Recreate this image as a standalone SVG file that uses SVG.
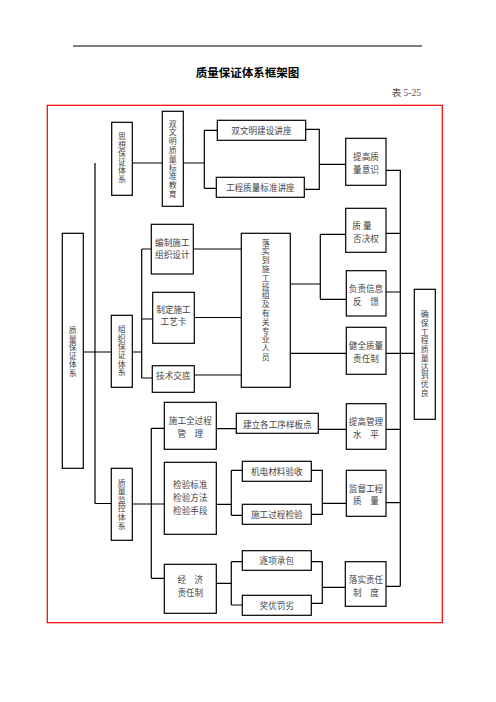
<svg xmlns="http://www.w3.org/2000/svg" width="496" height="702" viewBox="0 0 496 702">
<style>
  .bx{fill:#fff;stroke:#000;stroke-width:1.2}
  .t{font-family:"Liberation Serif","Noto Sans CJK SC",serif;font-size:8.6px;fill:#444;text-anchor:middle}
  .v{font-family:"Liberation Serif","Noto Sans CJK SC",serif;font-size:7.9px;fill:#444;text-anchor:middle}
  .cn{fill:none;stroke:#000;stroke-width:1.2}
</style>
<rect width="496" height="702" fill="#fff"/>
<line x1="73" y1="46" x2="422" y2="46" stroke="#000" stroke-width="1.2"/>
<text x="247.5" y="77" font-family="Liberation Serif,'Noto Sans CJK SC',serif" font-size="11.5" font-weight="bold" text-anchor="middle" fill="#000">质量保证体系框架图</text>
<text x="421" y="96" font-family="Liberation Serif,'Noto Sans CJK SC',serif" font-size="9.5" text-anchor="end" fill="#555">表 5-25</text>
<rect x="47.3" y="105.3" width="395" height="517.4" fill="none" stroke="#e00" stroke-width="1.2"/>

<g id="connectors" class="cn">
  <path class="cn" d="M132,163H162 M95,163V503.5 M83,352H111 M132,352H141.7 M141.7,249V378 M141.7,249H151 M141.7,319H152.5 M141.7,378H152 M95,503.5H111"/>
  <path class="cn" d="M183,163H204.3 M204.3,130.3V188.3 M204.3,130.3H217 M204.3,188.3H216 M305.5,129.3H319.3V189.3H304.3 M319.3,164.3H345.5"/>
  <path class="cn" d="M193,249H241 M194.5,317.5H241 M194,375H241 M290,284H320.3 M320.3,234.3V299.3 M320.3,234.3H345.5 M320.3,299.3H346 M290,353.3H346"/>
  <path class="cn" d="M386,170.3H400.3V586.3 M386,233.3H400.3 M386,292H400.3 M386,353.3H414 M386,429.3H400.3 M386,502.7H400.3 M386,586.3H400.3"/>
  <path class="cn" d="M132,504H151.3 M151.3,428.3V578.3 M151.3,428.3H164 M151.3,504H164 M151.3,578.3H164"/>
  <path class="cn" d="M216,428.7H236 M318.3,429.3H346 M216,504.3H231.3 M231.3,470.3V515.3 M231.3,470.3H242 M231.3,515.3H242 M311,470.3H322.3V514.3H311 M322.3,503.3H346"/>
  <path class="cn" d="M216,583.3H231.3 M231.3,561.7V605 M231.3,561.7H242 M231.3,605H242 M311,561.7H322.3V603.3H311 M322.3,587.3H345"/>
</g>

<g id="n-sixiang">
  <rect class="bx" x="111.7" y="122.3" width="20.6" height="73"/>
  <text class="v"><tspan x="122" y="139.4">思</tspan><tspan x="122" y="147.9">想</tspan><tspan x="122" y="156.4">保</tspan><tspan x="122" y="164.9">证</tspan><tspan x="122" y="173.4">体</tspan><tspan x="122" y="181.9">系</tspan></text>
</g>
<g id="n-shuangwenming">
  <rect class="bx" x="162.3" y="111.3" width="21" height="95"/>
  <text class="v"><tspan x="172.7" y="126.6">双</tspan><tspan x="172.7" y="135.4">文</tspan><tspan x="172.7" y="144.2">明</tspan><tspan x="172.7" y="153">质</tspan><tspan x="172.7" y="161.8">量</tspan><tspan x="172.7" y="170.6">标</tspan><tspan x="172.7" y="179.4">准</tspan><tspan x="172.7" y="188.2">教</tspan><tspan x="172.7" y="197">育</tspan></text>
</g>
<g id="n-jiangzuo1">
  <rect class="bx" x="217.3" y="120.3" width="88.4" height="20"/>
  <text class="t" x="261.4" y="133.5">双文明建设讲座</text>
</g>
<g id="n-jiangzuo2">
  <rect class="bx" x="216.3" y="177.3" width="88" height="20"/>
  <text class="t" x="260.3" y="190.5">工程质量标准讲座</text>
</g>
<g id="n-tigaozhiliang">
  <rect class="bx" x="345.7" y="138.3" width="40.3" height="47"/>
  <text class="t" x="366" y="159.9">提高质</text>
  <text class="t" x="366" y="173.2">量意识</text>
</g>
<g id="n-zhiliangbaozheng">
  <rect class="bx" x="62.3" y="233.3" width="21" height="235"/>
  <text class="v"><tspan x="72.8" y="333.1">质</tspan><tspan x="72.8" y="341.6">量</tspan><tspan x="72.8" y="350.1">保</tspan><tspan x="72.8" y="358.6">证</tspan><tspan x="72.8" y="367.1">体</tspan><tspan x="72.8" y="375.6">系</tspan></text>
</g>
<g id="n-zuzhi">
  <rect class="bx" x="111.3" y="315.3" width="21" height="72"/>
  <text class="v"><tspan x="121.8" y="332.2">组</tspan><tspan x="121.8" y="340.8">织</tspan><tspan x="121.8" y="349.4">保</tspan><tspan x="121.8" y="358">证</tspan><tspan x="121.8" y="366.6">体</tspan><tspan x="121.8" y="375.2">系</tspan></text>
</g>
<g id="n-bianzhi">
  <rect class="bx" x="151.3" y="224.3" width="42" height="49.7"/>
  <text class="t" x="172.3" y="245.5">编制施工</text>
  <text class="t" x="172.3" y="257.5">组织设计</text>
</g>
<g id="n-zhiding">
  <rect class="bx" x="152.7" y="292.3" width="41.6" height="51"/>
  <text class="t" x="173.5" y="312.5">制定施工</text>
  <text class="t" x="173.5" y="324.9">工艺卡</text>
</g>
<g id="n-jishu">
  <rect class="bx" x="152.3" y="365.7" width="42" height="26.6"/>
  <text class="t" x="173.3" y="379.2">技术交底</text>
</g>
<g id="n-luoshi">
  <rect class="bx" x="241.3" y="233.3" width="49" height="154"/>
  <text class="v"><tspan x="265.8" y="245.6">落</tspan><tspan x="265.8" y="254.4">实</tspan><tspan x="265.8" y="263.2">到</tspan><tspan x="265.8" y="272">施</tspan><tspan x="265.8" y="280.8">工</tspan><tspan x="265.8" y="289.6">班</tspan><tspan x="265.8" y="298.4">组</tspan><tspan x="265.8" y="307.2">及</tspan><tspan x="265.8" y="316">有</tspan><tspan x="265.8" y="324.8">关</tspan><tspan x="265.8" y="333.6">专</tspan><tspan x="265.8" y="342.4">业</tspan><tspan x="265.8" y="351.2">人</tspan><tspan x="265.8" y="360">员</tspan></text>
</g>
<g id="n-foujue">
  <rect class="bx" x="345.7" y="208.3" width="40.3" height="44"/>
  <text class="t" x="362" y="229.2" xml:space="preserve">质 量</text>
  <text class="t" x="366" y="242.2">否决权</text>
</g>
<g id="n-fankui">
  <rect class="bx" x="346.3" y="270.7" width="39.7" height="45.3"/>
  <text class="t" x="366" y="292.2">负责信息</text>
  <text class="t" x="366" y="304.5">反　馈</text>
</g>
<g id="n-jianquan">
  <rect class="bx" x="346.3" y="327.3" width="39.7" height="47"/>
  <text class="t" x="366" y="349.2">健全质量</text>
  <text class="t" x="366" y="361.5">责任制</text>
</g>
<g id="n-quebao">
  <rect class="bx" x="414.3" y="289.3" width="21" height="130"/>
  <text class="v"><tspan x="424.8" y="317.3">确</tspan><tspan x="424.8" y="326">保</tspan><tspan x="424.8" y="334.7">工</tspan><tspan x="424.8" y="343.4">程</tspan><tspan x="424.8" y="352.1">质</tspan><tspan x="424.8" y="360.8">量</tspan><tspan x="424.8" y="369.5">达</tspan><tspan x="424.8" y="378.2">到</tspan><tspan x="424.8" y="386.9">优</tspan><tspan x="424.8" y="395.6">良</tspan></text>
</g>
<g id="n-jiankong">
  <rect class="bx" x="111.3" y="468.3" width="21" height="72"/>
  <text class="v"><tspan x="121.8" y="485.5">质</tspan><tspan x="121.8" y="494.1">量</tspan><tspan x="121.8" y="502.7">监</tspan><tspan x="121.8" y="511.3">控</tspan><tspan x="121.8" y="519.9">体</tspan><tspan x="121.8" y="528.5">系</tspan></text>
</g>
<g id="n-quanguocheng">
  <rect class="bx" x="164.3" y="402.3" width="52" height="47"/>
  <text class="t" x="190.3" y="424.2">施工全过程</text>
  <text class="t" x="190.3" y="436.9">管　理</text>
</g>
<g id="n-jianyan">
  <rect class="bx" x="164.3" y="462.3" width="52" height="72"/>
  <text class="t" x="190.3" y="488.2">检验标准</text>
  <text class="t" x="190.3" y="501.2">检验方法</text>
  <text class="t" x="190.3" y="513.9">检验手段</text>
</g>
<g id="n-jingji">
  <rect class="bx" x="164.3" y="564.3" width="52" height="49"/>
  <text class="t" x="190.3" y="583.2">经　济</text>
  <text class="t" x="190.3" y="595.5">责任制</text>
</g>
<g id="n-yangban">
  <rect class="bx" x="236.3" y="413.3" width="82" height="20"/>
  <text class="t" x="277.3" y="427.5">建立各工序样板点</text>
</g>
<g id="n-guanli">
  <rect class="bx" x="346.3" y="403.7" width="39.7" height="45.6"/>
  <text class="t" x="366" y="425.2">提高管理</text>
  <text class="t" x="366" y="437.5">水　平</text>
</g>
<g id="n-jidian">
  <rect class="bx" x="242.3" y="461.3" width="69" height="20"/>
  <text class="t" x="276.8" y="474.9">机电材料验收</text>
</g>
<g id="n-guochengjianyan">
  <rect class="bx" x="242.3" y="504.3" width="69" height="20"/>
  <text class="t" x="276.8" y="517.5">施工过程检验</text>
</g>
<g id="n-jiandu">
  <rect class="bx" x="346.3" y="470.3" width="39.7" height="46"/>
  <text class="t" x="366" y="491.5">监督工程</text>
  <text class="t" x="366" y="504.2">质　量</text>
</g>
<g id="n-chengbao">
  <rect class="bx" x="242.3" y="550.7" width="69" height="19.6"/>
  <text class="t" x="276.8" y="563.7">逐项承包</text>
</g>
<g id="n-jiangyou">
  <rect class="bx" x="242.3" y="595.3" width="69" height="20"/>
  <text class="t" x="276.8" y="608.5">奖优罚劣</text>
</g>
<g id="n-luoshizeren">
  <rect class="bx" x="345.3" y="561.7" width="40.7" height="44.6"/>
  <text class="t" x="366" y="583.2">落实责任</text>
  <text class="t" x="366" y="595.9">制　度</text>
</g>
</svg>
